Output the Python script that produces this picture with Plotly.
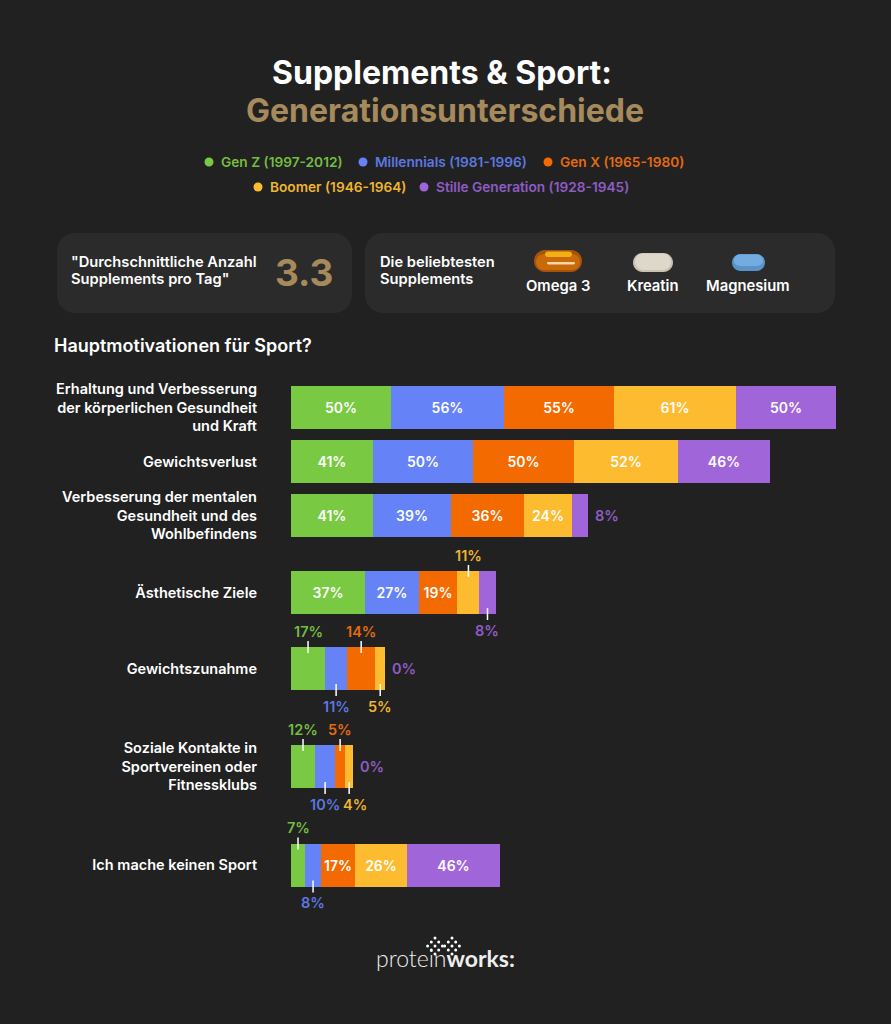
import plotly.graph_objects as go

FONT = "Inter"
BG = "#212121"
CARD = "#2b2b2b"
GOLD = "#a68a5b"
W, H = 891, 1024

categories = [
    "Erhaltung und Verbesserung<br>der körperlichen Gesundheit<br>und Kraft",
    "Gewichtsverlust",
    "Verbesserung der mentalen<br>Gesundheit und des<br>Wohlbefindens",
    "Ästhetische Ziele",
    "Gewichtszunahme",
    "Soziale Kontakte in<br>Sportvereinen oder<br>Fitnessklubs",
    "Ich mache keinen Sport",
]
generations = ["Gen Z (1997-2012)", "Millennials (1981-1996)", "Gen X (1965-1980)",
               "Boomer (1946-1964)", "Stille Generation (1928-1945)"]
gen_z = [50, 41, 41, 37, 17, 12, 7]
millennials = [56, 50, 39, 27, 11, 10, 8]
gen_x = [55, 50, 36, 19, 14, 5, 17]
boomer = [61, 52, 24, 11, 5, 4, 26]
silent = [50, 46, 8, 8, 0, 0, 46]

# where each value label goes: i = in the bar, u = above, d = below, r = right of bar
place_gen_z = ["i", "i", "i", "i", "u", "u", "u"]
place_millennials = ["i", "i", "i", "i", "d", "d", "d"]
place_gen_x = ["i", "i", "i", "i", "u", "u", "i"]
place_boomer = ["i", "i", "i", "u", "d", "d", "i"]
place_silent = ["i", "i", "r", "d", "r", "r", "i"]

series = [gen_z, millennials, gen_x, boomer, silent]
places = [place_gen_z, place_millennials, place_gen_x, place_boomer, place_silent]
bar_colors = ["#7ac943", "#6583f7", "#f26a00", "#fdbb30", "#a066d9"]
label_colors = ["#74bd40", "#5c78e0", "#e56a10", "#eeb52f", "#8e5cc4"]

# layout, in pixels of the 891x1024 page
row_center = [407.5, 461.5, 515.5, 592.5, 668.5, 766.5, 865]
bar_height = 43
bar_left = 291
px_per_pct = 2.005


def px(x):
    return x / W


def py(y):
    return 1 - y / H


def text(x, y, s, size, color="white", anchor="left", weight=600):
    if anchor == "left":
        x -= 2  # annotation box padding
    fig.add_annotation(x=px(x), y=py(y), xref="paper", yref="paper", text=s,
                       showarrow=False, xanchor=anchor, yanchor="middle", align=anchor,
                       font=dict(family=FONT, size=size, color=color, weight=weight))


def round_rect(x0, y0, x1, y1, r, color):
    """rounded box as a path in paper coords, corners are cubic so they come out round"""
    rx, ry = r / W, r / H
    kx, ky = rx * 0.45, ry * 0.45
    a, b, c, d = px(x0), px(x1), py(y0), py(y1)
    path = (f"M {a + rx} {c} L {b - rx} {c} C {b - kx} {c} {b} {c - ky} {b} {c - ry} "
            f"L {b} {d + ry} C {b} {d + ky} {b - kx} {d} {b - rx} {d} "
            f"L {a + rx} {d} C {a + kx} {d} {a} {d + ky} {a} {d + ry} "
            f"L {a} {c - ry} C {a} {c - ky} {a + kx} {c} {a + rx} {c} Z")
    fig.add_shape(type="path", path=path, xref="paper", yref="paper", fillcolor=color, line_width=0)


def oval(x0, y0, x1, y1, color):
    fig.add_shape(type="circle", xref="paper", yref="paper", x0=px(x0), x1=px(x1), y0=py(y1), y1=py(y0),
                  fillcolor=color, line_width=0)


fig = go.Figure()

for i, vals in enumerate(series):
    labels = [f"{v}%" if p == "i" else "" for v, p in zip(vals, places[i])]
    fig.add_trace(go.Bar(y=row_center, x=vals, orientation="h", width=bar_height, name=generations[i],
                         marker=dict(color=bar_colors[i], line_width=0), text=labels,
                         textposition="inside", insidetextanchor="middle", textangle=0,
                         textfont=dict(family=FONT, size=14, color="white", weight=600),
                         hoverinfo="x+name", showlegend=False))

# labels outside the bars, with their little white ticks
for r in range(len(categories)):
    left = 0
    total = sum(s[r] for s in series)
    for i, vals in enumerate(series):
        v = vals[r]
        mid = left + v / 2
        left += v
        p = places[i][r]
        if p == "i":
            continue
        if p == "r":
            fig.add_annotation(x=total, y=row_center[r], text=f"{v}%", showarrow=False, xanchor="left",
                               xshift=5, font=dict(family=FONT, size=14.5, color=label_colors[i], weight=600))
            continue
        sign = -1 if p == "u" else 1
        edge = row_center[r] + sign * bar_height / 2
        fig.add_shape(type="line", x0=mid, x1=mid, y0=edge - 6, y1=edge + 6, xref="x", yref="y",
                      line=dict(color="white", width=1.5), layer="above")
        # the 4% sits a bit to the right of its tick so it clears the 10%
        nudge = 6 if (r == 5 and i == 3) else 0
        fig.add_annotation(x=mid, y=edge + sign * 16, text=f"{v}%", showarrow=False, xshift=nudge,
                           font=dict(family=FONT, size=14.5, color=label_colors[i], weight=600))

# title and legend
text(442, 72, "Supplements &amp; Sport:", 32, anchor="center", weight=700)
text(445, 110, "Generationsunterschiede", 32, GOLD, anchor="center", weight=700)

legend_pos = [(209, 162), (363, 162), (548, 162), (258, 187), (424, 187)]
for i, (lx, ly) in enumerate(legend_pos):
    oval(lx - 4.5, ly - 4.5, lx + 4.5, ly + 4.5, bar_colors[i])
    text(lx + 12, ly, generations[i], 13.7, label_colors[i])

# cards
round_rect(57, 233, 352, 313, 18, CARD)
round_rect(365, 233, 835, 313, 18, CARD)
text(71, 262, "\"Durchschnittliche Anzahl", 14.7)
text(71, 279, "Supplements pro Tag\"", 14.7)
text(304, 272, "3.3", 37, GOLD, anchor="center", weight=700)
text(380, 262, "Die beliebtesten", 14.7)
text(380, 279, "Supplements", 14.7)
text(558, 286, "Omega 3", 14.8, anchor="center")
text(653, 286, "Kreatin", 14.8, anchor="center")
text(748, 286, "Magnesium", 14.8, anchor="center")

# pills
round_rect(534, 250, 582, 272, 11, "#a9520a")
round_rect(536, 254, 580, 270, 8, "#c96a0a")
round_rect(545, 251.5, 572, 257, 2.7, "#f2b015")
round_rect(547, 262, 575, 264.5, 1.2, "#f3d6a8")
round_rect(633, 253, 673, 272, 9.5, "#c9c2b2")
round_rect(635, 253.5, 671, 270, 8.2, "#ded8cb")
round_rect(732, 254, 765, 271, 8.5, "#5a93c8")
round_rect(734, 254.5, 763, 266, 5.7, "#72ace0")

text(54, 345, "Hauptmotivationen für Sport?", 18)

# logo dots
diamond = [(0, -2), (-1, -1), (1, -1), (-2, 0), (0, 0), (2, 0), (-1, 1), (1, 1), (0, 2)]
for cx in (435, 452):
    for dx, dy in diamond:
        oval(cx + dx * 3.7 - 1.5, 946 + dy * 4 - 1.5, cx + dx * 3.7 + 1.5, 946 + dy * 4 + 1.5, "white")
fig.add_annotation(x=px(445.5), y=py(974), xref="paper", yref="paper", showarrow=False,
                   text="protein<b>works:</b>",
                   font=dict(family="Lato", size=23, color="#eeeeee", weight=300))

fig.update_layout(
    width=W, height=H, margin=dict(l=0, r=0, t=0, b=0), barmode="stack",
    paper_bgcolor=BG, plot_bgcolor=BG, bargap=0, showlegend=False,
    xaxis=dict(domain=[px(bar_left), 1], range=[0, (W - bar_left) / px_per_pct], visible=False),
    yaxis=dict(domain=[0, 1], range=[H, 0], tickvals=row_center, ticktext=categories, showgrid=False,
               zeroline=False, showline=False, ticks="", ticklabelstandoff=33,
               tickfont=dict(family=FONT, size=14.5, color="white", weight=600)),
)

fig.write_html("out.html", config={"displayModeBar": False},
               post_script="document.body.style.margin='0';document.body.style.background='#212121';")
